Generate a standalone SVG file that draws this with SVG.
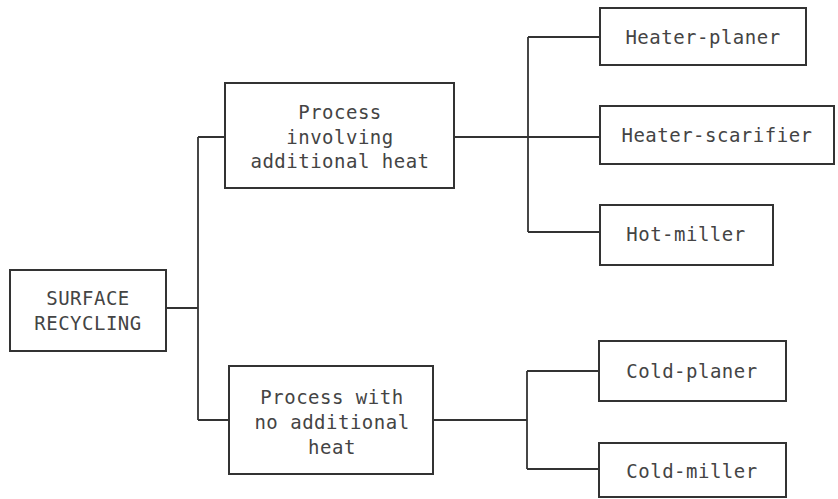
<svg xmlns="http://www.w3.org/2000/svg" width="838" height="499" viewBox="0 0 838 499">
<style>
.box{fill:#fff;stroke:#333;stroke-width:2}
.ln{fill:none;stroke:#333;stroke-width:1.8}
text{font-family:"DejaVu Sans Mono","Liberation Mono",monospace;font-size:19px;letter-spacing:0.5px;fill:#444;text-anchor:middle}
</style>
<rect width="838" height="499" fill="#fff"/>
<g id="connectors">
<path class="ln" d="M166 308H198M198 137V420M198 137H225M198 420H229"/>
<path class="ln" d="M454 137H600M528 37V232M528 37H600M528 232H600"/>
<path class="ln" d="M433 420H527M527 371V469M527 371H599M527 469H599"/>
</g>
<g id="surface-recycling">
<rect class="box" x="10" y="270" width="156" height="81"/>
<text x="88" y="305">SURFACE</text>
<text x="88" y="330">RECYCLING</text>
</g>
<g id="process-heat">
<rect class="box" x="225" y="83" width="229" height="105"/>
<text x="340" y="119">Process</text>
<text x="340" y="144">involving</text>
<text x="340" y="168">additional heat</text>
</g>
<g id="process-no-heat">
<rect class="box" x="229" y="366" width="204" height="108"/>
<text x="332" y="404">Process with</text>
<text x="332" y="429">no additional</text>
<text x="332" y="454">heat</text>
</g>
<g id="heater-planer">
<rect class="box" x="600" y="8" width="206" height="57"/>
<text x="703" y="44">Heater-planer</text>
</g>
<g id="heater-scarifier">
<rect class="box" x="600" y="106" width="234" height="58"/>
<text x="717" y="142">Heater-scarifier</text>
</g>
<g id="hot-miller">
<rect class="box" x="600" y="205" width="173" height="60"/>
<text x="686" y="241">Hot-miller</text>
</g>
<g id="cold-planer">
<rect class="box" x="599" y="341" width="187" height="60"/>
<text x="692" y="378">Cold-planer</text>
</g>
<g id="cold-miller">
<rect class="box" x="599" y="443" width="187" height="54"/>
<text x="692" y="478">Cold-miller</text>
</g>
</svg>
